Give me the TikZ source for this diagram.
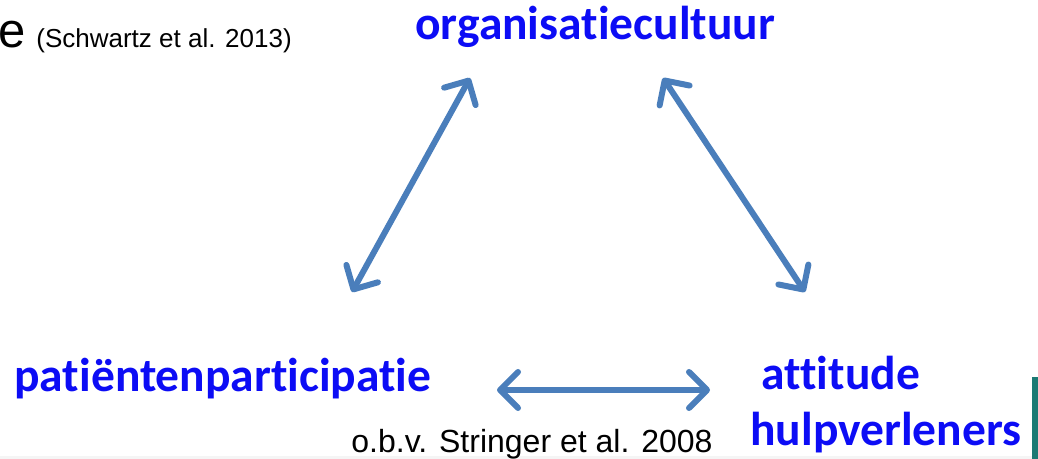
\documentclass[tikz,border=0pt]{standalone}
\usepackage{fontspec}
\setmainfont{Liberation Sans}
\newfontfamily\calibrifont[Ligatures=NoCommon]{Carlito}
\usetikzlibrary{arrows.meta}
\definecolor{kopblauw}{RGB}{12,12,245}
\definecolor{pijlblauw}{RGB}{74,126,187}
\definecolor{balkteal}{RGB}{28,122,116}
\tikzset{
  kop/.style={anchor=base west,inner sep=0pt,text=kopblauw,font=\calibrifont\bfseries\fontsize{23.75}{28}\selectfont},
  bron/.style={anchor=base west,inner sep=0pt,text=black},
  pijl/.style={line width=3pt,draw=pijlblauw,{Straight Barb[length=9pt,width=18pt,round]}-{Straight Barb[length=9pt,width=18pt,round]}}
}
\begin{document}
\begin{tikzpicture}[x=0.5pt,y=-0.5pt]
		\useasboundingbox (0,0) rectangle (1038,459);
		\fill[black!4] (0,456) rectangle (1038,459);
		\fill[balkteal] (1032,377) rectangle (1038,459);
		% titels
		\node[bron,font=\fontsize{24.5}{28}\selectfont] (titel) at (-2,48) {e};
		\node[bron,font=\fontsize{13}{15}\selectfont] (schwartz) at (36,48) {(Schwartz et al. 2013)};
		\node[kop] (org) at (415,40) {organisatiecultuur};
		\node[kop] (pat) at (14,392) {patiëntenparticipatie};
		\node[kop] (att) at (761,390) {attitude};
		\node[kop] (hulp) at (750,445) {hulpverleners};
		\node[bron,font=\fontsize{16}{19}\selectfont] (stringer) at (351,452) {o.b.v. Stringer et al. 2008};
		% pijlen
		\coordinate (org-l) at (470,78);
		\coordinate (org-r) at (663,78);
		\coordinate (pat-o) at (352,292);
		\coordinate (pat-r) at (497,390);
		\coordinate (att-o) at (805,292);
		\coordinate (att-l) at (710,390);
		\draw[pijl] (org-l)--(pat-o);
		\draw[pijl] (org-r)--(att-o);
		\draw[pijl] (pat-r)--(att-l);
	    \end{tikzpicture}
\end{document}
